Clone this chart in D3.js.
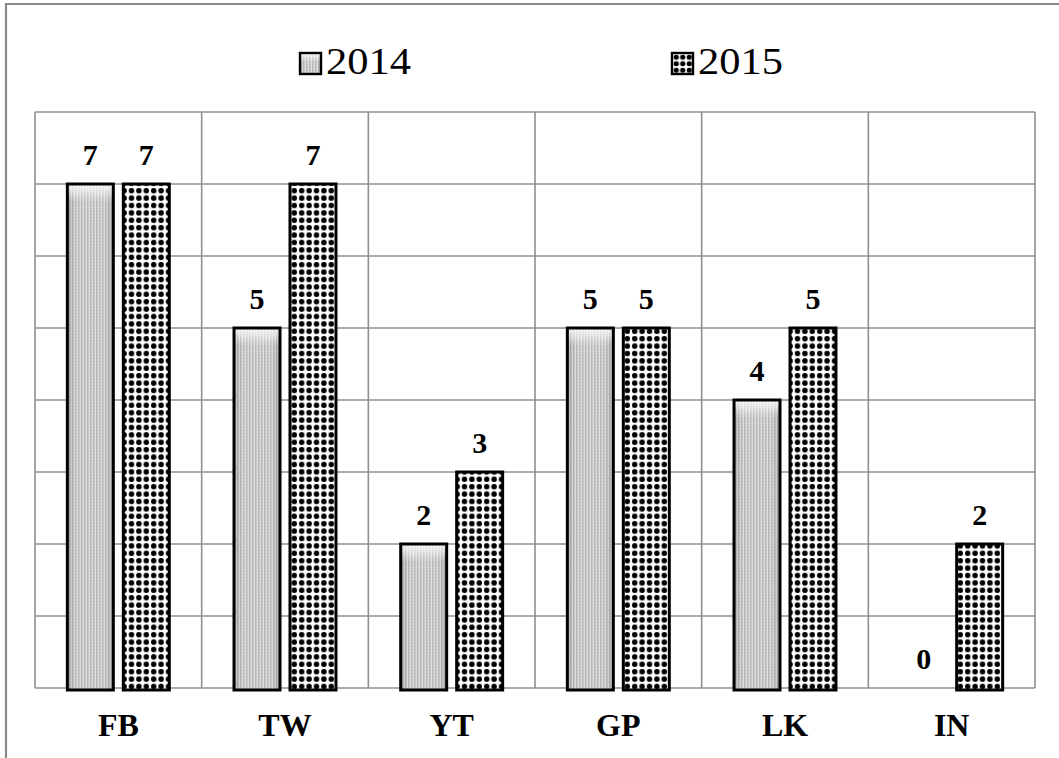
<!DOCTYPE html>
<html><head><meta charset="utf-8">
<script src="https://cdn.jsdelivr.net/npm/d3@7"></script>
<style>
html,body{margin:0;padding:0;background:#fff;}
svg{display:block;}
text{font-family:"Liberation Serif","Times New Roman",serif;}
</style></head>
<body>
<svg id="chart" width="1059" height="758"></svg>
<script>
const categories = ["FB","TW","YT","GP","LK","IN"];
const years = ["2014","2015"];
const values2014 = [7,5,2,5,4,0];
const values2015 = [7,7,3,5,5,2];
const yTicks = [0,1,2,3,4,5,6,7,8];

const W = 1059, H = 758;
const M = {left:35, right:1035, top:112, bottom:688};
const svg = d3.select("#chart");
const defs = svg.append("defs");

// patterns
const p14 = defs.append("pattern").attr("id","p2014").attr("patternUnits","userSpaceOnUse")
  .attr("width",3).attr("height",3);
p14.append("rect").attr("width",3).attr("height",3).attr("fill","#cdcdcd");
p14.append("rect").attr("x",0).attr("width",1).attr("height",3).attr("fill","#b7b7b7");
p14.append("rect").attr("x",2).attr("width",1).attr("height",3).attr("fill","#dedede");
p14.append("rect").attr("x",1).attr("y",1).attr("width",1).attr("height",1).attr("fill","#c0c0c0");

const p15 = defs.append("pattern").attr("id","p2015").attr("patternUnits","userSpaceOnUse")
  .attr("width",7.4).attr("height",7.4).attr("x",2).attr("y",2);
p15.append("rect").attr("width",7.4).attr("height",7.4).attr("fill","#fff");
p15.append("circle").attr("cx",3.7).attr("cy",3.7).attr("r",2.75).attr("fill","#000");

const p15L = defs.append("pattern").attr("id","p2015L").attr("patternUnits","userSpaceOnUse")
  .attr("width",6.5).attr("height",6.5).attr("x",673).attr("y",54);
p15L.append("rect").attr("width",6.5).attr("height",6.5).attr("fill","#fff");
p15L.append("circle").attr("cx",3.25).attr("cy",3.25).attr("r",2.6).attr("fill","#000");

const gh = defs.append("linearGradient").attr("id","gside").attr("x1","0").attr("x2","1").attr("y1","0").attr("y2","0");
gh.append("stop").attr("offset","0").attr("stop-color","#000").attr("stop-opacity",0.15);
gh.append("stop").attr("offset","0.18").attr("stop-color","#000").attr("stop-opacity",0);
gh.append("stop").attr("offset","0.82").attr("stop-color","#000").attr("stop-opacity",0);
gh.append("stop").attr("offset","1").attr("stop-color","#000").attr("stop-opacity",0.15);
const gt = defs.append("linearGradient").attr("id","gtop").attr("x1","0").attr("x2","0").attr("y1","0").attr("y2","1");
gt.append("stop").attr("offset","0").attr("stop-color","#fff").attr("stop-opacity",0.85);
gt.append("stop").attr("offset","1").attr("stop-color","#fff").attr("stop-opacity",0);

// outer frame
svg.append("path").attr("d",`M6,${H} L6,4 L${W},4`).attr("fill","none")
  .attr("stroke","#8a8a8a").attr("stroke-width",2.2);

// scales
const x = d3.scaleBand().domain(categories).range([M.left, M.right]).paddingInner(0).paddingOuter(0);
const xs = d3.scaleBand().domain(years).range([0, x.bandwidth()]).paddingInner(10/56).paddingOuter(0.578);
const y = d3.scaleLinear().domain([0,8]).range([M.bottom, M.top]);

// grid
const grid = svg.append("g");
grid.selectAll("line.h").data(yTicks).enter().append("line")
  .attr("x1",M.left).attr("x2",M.right).attr("y1",d=>y(d)).attr("y2",d=>y(d))
  .attr("stroke","#8f8f8f").attr("stroke-width",1.6);
grid.selectAll("line.v").data(categories.concat(["_end"])).enter().append("line")
  .attr("x1",d=>d==="_end"?M.right:x(d)).attr("x2",d=>d==="_end"?M.right:x(d))
  .attr("y1",M.top).attr("y2",M.bottom)
  .attr("stroke","#8f8f8f").attr("stroke-width",1.6);

// bars
const rows = [];
categories.forEach((c,i)=>{
  rows.push({cat:c, year:"2014", v:values2014[i]});
  rows.push({cat:c, year:"2015", v:values2015[i]});
});
const bars = svg.append("g");
rows.filter(d=>d.v>0).forEach(d=>{
  const bx = x(d.cat)+xs(d.year), bw = xs.bandwidth();
  const by = y(d.v), bh = y(0)-y(d.v)+2;
  const g = bars.append("g");
  if(d.year==="2014"){
    g.append("rect").attr("x",bx).attr("y",by).attr("width",bw).attr("height",bh).attr("fill","url(#p2014)");
    g.append("rect").attr("x",bx).attr("y",by).attr("width",bw).attr("height",bh).attr("fill","url(#gside)");
    g.append("rect").attr("x",bx).attr("y",by).attr("width",bw).attr("height",Math.min(18,bh)).attr("fill","url(#gtop)");
  } else {
    g.append("rect").attr("x",bx).attr("y",by).attr("width",bw).attr("height",bh).attr("fill","url(#p2015)");
  }
  g.append("rect").attr("x",bx).attr("y",by).attr("width",bw).attr("height",bh)
    .attr("fill","none").attr("stroke","#000").attr("stroke-width",3);
});

// data labels
svg.append("g").selectAll("text").data(rows).enter().append("text")
  .attr("x",d=>x(d.cat)+xs(d.year)+xs.bandwidth()/2)
  .attr("y",d=>y(d.v)-19)
  .attr("text-anchor","middle")
  .attr("font-weight","bold").attr("font-size",30).attr("fill","#000")
  .text(d=>d.v);

// category labels
svg.append("g").selectAll("text").data(categories).enter().append("text")
  .attr("x",d=>x(d)+x.bandwidth()/2).attr("y",736)
  .attr("text-anchor","middle")
  .attr("font-weight","bold").attr("font-size",32).attr("fill","#000")
  .text(d=>d);

// legend
const legX = [300, 672];
const lg = svg.append("g");
years.forEach((yr,i)=>{
  const lx = legX[i];
  if(yr==="2014"){
    lg.append("rect").attr("x",lx).attr("y",53).attr("width",21).attr("height",21).attr("fill","url(#p2014)");
    lg.append("rect").attr("x",lx).attr("y",53).attr("width",21).attr("height",21).attr("fill","url(#gside)");
    lg.append("rect").attr("x",lx).attr("y",53).attr("width",21).attr("height",9).attr("fill","url(#gtop)");
  } else {
    lg.append("rect").attr("x",lx).attr("y",53).attr("width",21).attr("height",21).attr("fill","url(#p2015L)");
  }
  lg.append("rect").attr("x",lx).attr("y",53).attr("width",21).attr("height",21)
    .attr("fill","none").attr("stroke","#000").attr("stroke-width",2.4);
  lg.append("text").attr("x",lx+26).attr("y",74)
    .attr("font-size",38).attr("fill","#000")
    .attr("textLength",85).attr("lengthAdjust","spacingAndGlyphs")
    .text(yr);
});
</script>
</body></html>
